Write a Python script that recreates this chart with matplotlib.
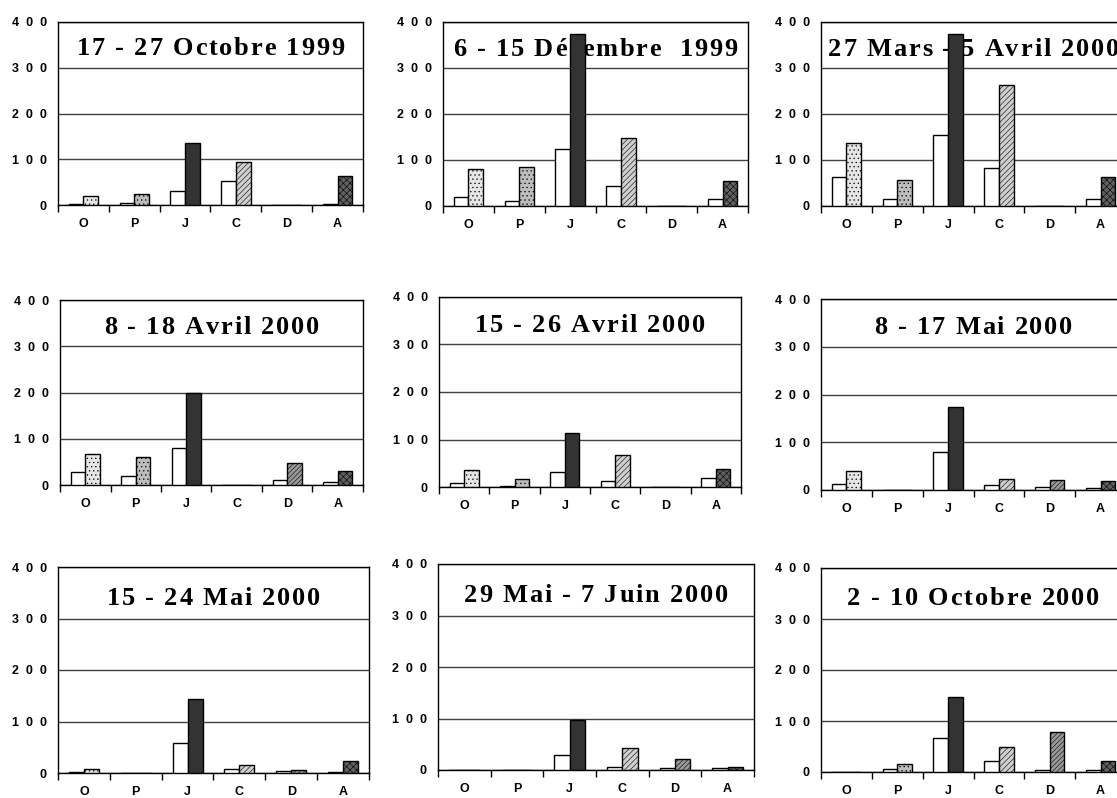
import numpy as np
import matplotlib
matplotlib.use("Agg")
import matplotlib.pyplot as plt
from matplotlib.ticker import FixedLocator
from matplotlib.textpath import TextToPath
from matplotlib.font_manager import FontProperties
from matplotlib.transforms import offset_copy

# Data
categories = ["O", "P", "J", "C", "D", "A"]

titles = [
    "17 - 27 Octobre 1999",
    "6 - 15 Décembre  1999",
    "27 Mars - 5 Avril 2000",
    "8 - 18 Avril 2000",
    "15 - 26 Avril 2000",
    "8 - 17 Mai 2000",
    "15 - 24 Mai 2000",
    "29 Mai - 7 Juin 2000",
    "2 - 10 Octobre 2000",
]

# first (white) bar of each category
white_vals = [
    [3, 5, 30, 52, 0, 2],
    [20, 10, 125, 43, 0, 16],
    [63, 16, 155, 82, 0, 15],
    [29, 19, 79, 0, 10, 6],
    [9, 3, 32, 12, 0, 18],
    [12, 0, 79, 10, 7, 5],
    [2, 0, 58, 8, 3, 2],
    [0, 0, 30, 6, 3, 3],
    [0, 5, 66, 22, 4, 3],
]

# second (patterned) bar of each category
pattern_vals = [
    [19, 24, 135, 94, 0, 63],
    [80, 85, 373, 148, 0, 55],
    [137, 56, 375, 264, 0, 63],
    [68, 61, 200, 0, 48, 30],
    [35, 16, 113, 67, 0, 37],
    [40, 0, 174, 24, 21, 19],
    [8, 0, 143, 16, 6, 24],
    [0, 0, 97, 43, 21, 5],
    [0, 16, 148, 50, 78, 21],
]

yticks = [0, 100, 200, 300, 400]

# axes boxes in pixels: left, top, right, bottom
boxes = [
    (58, 22, 363, 205), (443, 22, 748, 206), (821, 22, 1126, 206),
    (60, 300, 363, 485), (439, 297, 741, 487), (821, 299, 1126, 490),
    (58, 567, 369, 773), (438, 564, 754, 770), (821, 568, 1126, 772),
]

faces = ["#e6e6e6", "#bdbdbd", "#333333", "#cfcfcf", "#9a9a9a", "#606060"]
hatches = ["....", "....", None, "//////", "///////", "xxxxx"]

plt.rcParams["hatch.linewidth"] = 0.4

W, H = 1117, 798
fig = plt.figure(figsize=(W / 100, H / 100), dpi=100)

tick_font = dict(family="Liberation Sans", weight="bold", size=9)
title_prop = FontProperties(family="Liberation Serif", weight="bold", size=19)
ttp = TextToPath()
TRACK = 1.3  # extra letter spacing in points, like the spaced-out Excel titles


def spaced_title(ax, s, xc, yb):
    widths = [ttp.get_text_width_height_descent(c, title_prop, ismath=False)[0] for c in s]
    total = sum(widths) + TRACK * (len(s) - 1)
    pos = -total / 2
    for c, w in zip(s, widths):
        tr = offset_copy(ax.transData, fig=fig, x=pos, y=0, units="points")
        ax.text(xc, yb, c, transform=tr, ha="left", va="baseline",
                fontproperties=title_prop, zorder=2)
        pos += w + TRACK


x = np.arange(len(categories))
bw = 0.29

for k, (l, t, r, b) in enumerate(boxes):
    ax = fig.add_axes([l / W, 1 - b / H, (r - l) / W, (b - t) / H])
    ax.bar(x - bw / 2, white_vals[k], bw, color="white", edgecolor="black",
           linewidth=1.0, zorder=3)
    for i in range(len(categories)):
        ax.bar(x[i] + bw / 2, pattern_vals[k][i], bw, color=faces[i],
               edgecolor="black", hatch=hatches[i], linewidth=1.0, zorder=3)
    ax.set_xlim(-0.5, len(categories) - 0.5)
    ax.set_ylim(0, 400)
    ax.set_yticks(yticks)
    ax.set_yticklabels(["  ".join(str(v)) for v in yticks], fontdict=tick_font)
    ax.tick_params(axis="y", length=0, pad=8)
    ax.set_xticks(x)
    ax.set_xticklabels(categories, fontdict=tick_font)
    ax.xaxis.set_minor_locator(FixedLocator(np.arange(-0.5, len(categories), 1.0)))
    ax.tick_params(axis="x", which="major", length=0, pad=9.5)
    ax.tick_params(axis="x", which="minor", length=5, width=1, direction="out")
    ax.yaxis.grid(True, color="#404040", linewidth=1.0, zorder=1)
    ax.set_axisbelow(True)
    for s in ax.spines.values():
        s.set_linewidth(1.0)
        s.set_color("black")
    spaced_title(ax, titles[k], (len(categories) - 1) / 2, 327)

fig.savefig("out.png", dpi=100)
